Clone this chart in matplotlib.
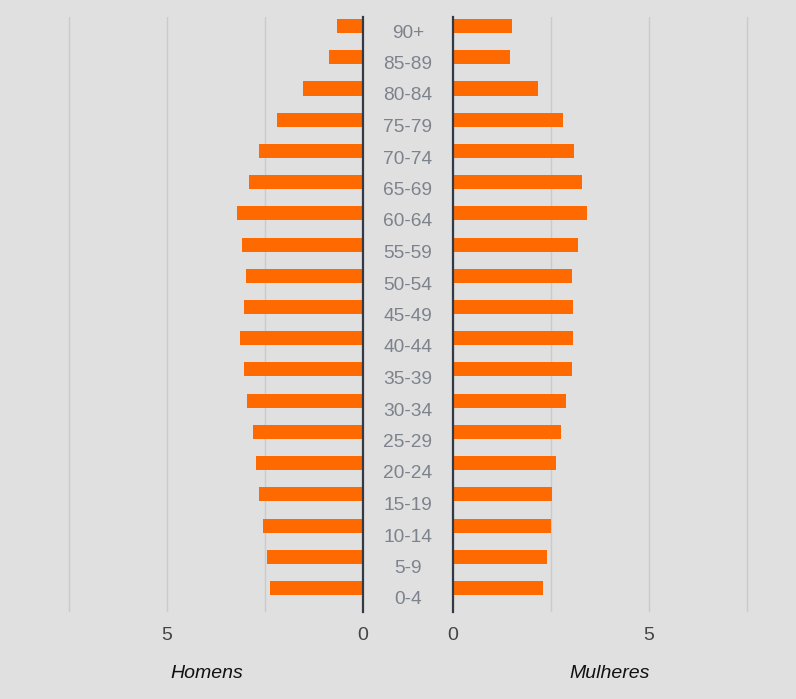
import matplotlib.pyplot as plt

plt.rcParams['font.family'] = ['Liberation Sans', 'DejaVu Sans']

age_groups = ['0-4', '5-9', '10-14', '15-19', '20-24', '25-29', '30-34', '35-39',
              '40-44', '45-49', '50-54', '55-59', '60-64', '65-69', '70-74',
              '75-79', '80-84', '85-89', '90+']
homens = [2.37, 2.46, 2.55, 2.65, 2.73, 2.82, 2.95, 3.04, 3.14, 3.04,
          2.99, 3.09, 3.22, 2.92, 2.65, 2.20, 1.52, 0.86, 0.67]
mulheres = [2.31, 2.40, 2.49, 2.53, 2.62, 2.75, 2.89, 3.03, 3.07, 3.07,
            3.03, 3.20, 3.43, 3.29, 3.10, 2.80, 2.17, 1.45, 1.51]

bg = '#e0e0e0'
bar_color = '#ff6a00'
W, H = 796, 699

fig = plt.figure(figsize=(W / 100, H / 100), dpi=100, facecolor=bg)
bottom = 1 - 612 / H
height = 595 / H
ax_l = fig.add_axes([30 / W, bottom, 333 / W, height], facecolor=bg)
ax_r = fig.add_axes([453 / W, bottom, 333 / W, height], facecolor=bg)
# labels in the middle sit on a slightly different grid than the bars
ax_m = fig.add_axes([363 / W, 1 - 615.75 / H, 90 / W, 598.5 / H])
ax_m.axis('off')

y = list(range(len(age_groups)))
ax_l.barh(y, homens, height=0.45, color=bar_color, zorder=3)
ax_r.barh(y, mulheres, height=0.45, color=bar_color, zorder=3)

for ax in (ax_l, ax_r):
    ax.set_ylim(-0.77, len(age_groups) - 1 + 0.29)
ax_m.set_ylim(-0.5, len(age_groups) - 0.5)

ax_l.set_xlim(8.5, 0)
ax_r.set_xlim(0, 8.5)

for ax in (ax_l, ax_r):
    ax.set_xticks([0, 5])
    ax.set_xticks([2.5, 7.5], minor=True)
    ax.set_yticks([])
    ax.grid(True, which='both', axis='x', color='#cbcbcb', lw=1, zorder=0)
    ax.tick_params(axis='x', which='both', length=0, pad=10.5,
                   labelsize=14, labelcolor='#444444')
    for s in ax.spines.values():
        s.set_visible(False)

for ax, side in ((ax_l, 'right'), (ax_r, 'left')):
    sp = ax.spines[side]
    sp.set_visible(True)
    sp.set_color('#333a45')
    sp.set_linewidth(1.6)
    sp.set_zorder(4)

for i, lab in enumerate(age_groups):
    ax_m.text(0.5, i, lab, ha='center', va='center', fontsize=13.8,
              color='#7d838c', transform=ax_m.get_yaxis_transform())

fig.text(207 / W, 1 - 674 / H, 'Homens', ha='center', va='center',
         fontsize=14, style='italic', color='#111111')
fig.text(610 / W, 1 - 674 / H, 'Mulheres', ha='center', va='center',
         fontsize=14, style='italic', color='#111111')

fig.savefig('out.png', dpi=100, facecolor=bg)
